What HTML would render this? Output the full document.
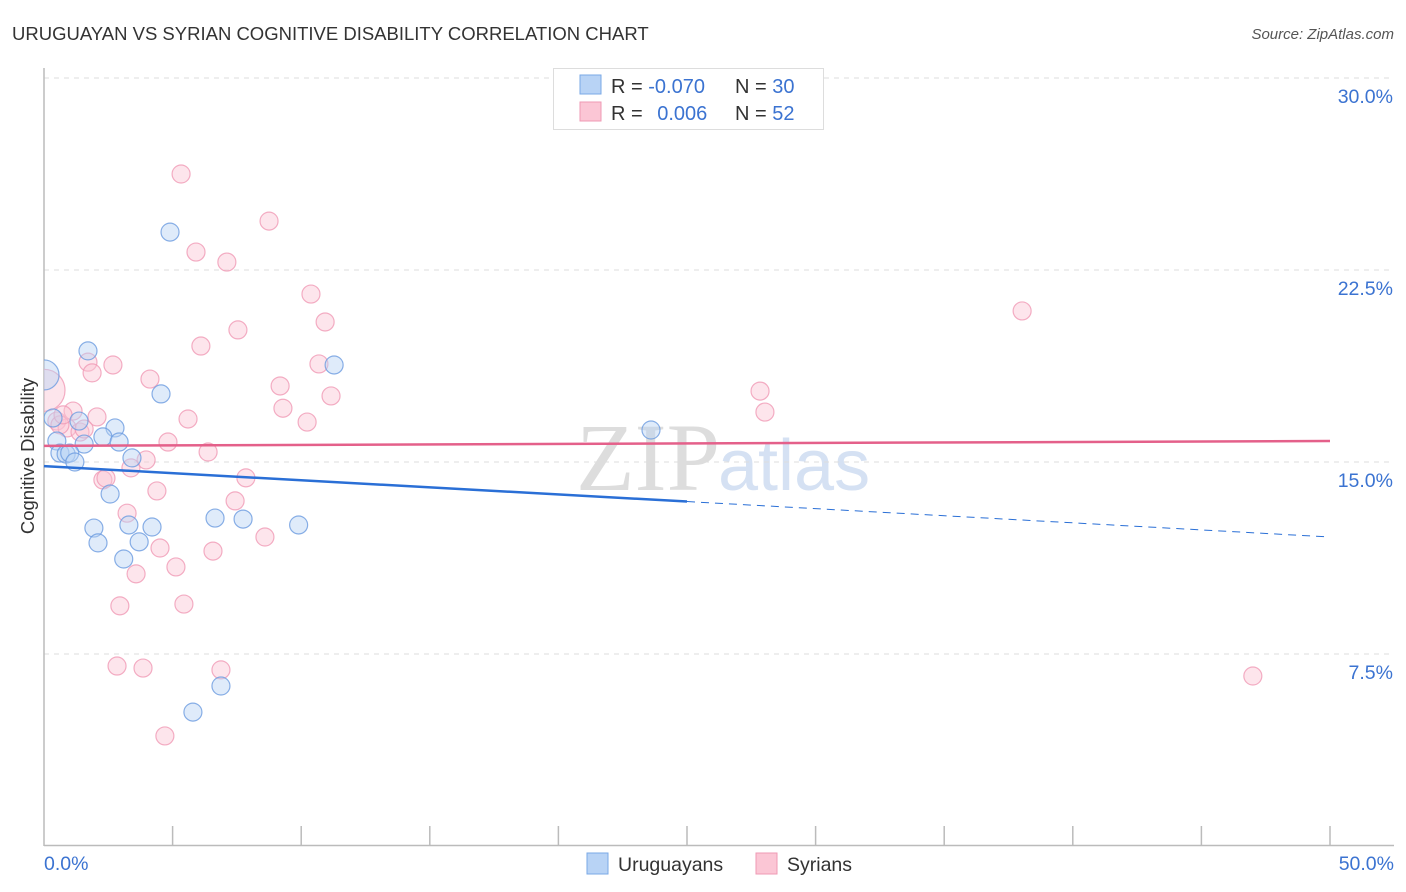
<!DOCTYPE html>
<html><head><meta charset="utf-8"><style>
body{margin:0;background:#fff;font-family:"Liberation Sans",sans-serif}
svg{display:block}
</style></head><body>
<svg id="chart" width="1406" height="892">
<defs><clipPath id="plotclip"><rect x="44" y="60" width="1360" height="786"/></clipPath></defs>
<text x="12" y="40" font-size="18.5" fill="#333">URUGUAYAN VS SYRIAN COGNITIVE DISABILITY CORRELATION CHART</text>
<text x="1394" y="39" font-size="15" fill="#555" font-style="italic" text-anchor="end">Source: ZipAtlas.com</text>
<text x="720" y="490" font-size="96" fill="#ddd" text-anchor="end" font-family="Liberation Serif,serif">ZIP</text>
<text x="718" y="490" font-size="72" fill="#d5e1f3">atlas</text>
<g id="grid"></g><g id="axes"></g><g id="pts" clip-path="url(#plotclip)"></g><g id="lines"></g>
<g>
<rect x="553.5" y="68.5" width="270" height="61" fill="#fff" stroke="#ddd"/>
<rect x="580" y="75" width="21" height="19" fill="#b8d3f5" stroke="#7aa8e6"/>
<rect x="580" y="102" width="21" height="19" fill="#fbc6d5" stroke="#ef9ab4"/>
<text x="611" y="93" font-size="20" fill="#333">R = <tspan fill="#3b73d1">-0.070</tspan></text>
<text x="735" y="93" font-size="20" fill="#333">N = <tspan fill="#3b73d1">30</tspan></text>
<text x="611" y="120" font-size="20" fill="#333">R = <tspan fill="#3b73d1" dx="9">0.006</tspan></text>
<text x="735" y="120" font-size="20" fill="#333">N = <tspan fill="#3b73d1">52</tspan></text>
</g>
<g>
<rect x="587" y="853" width="21" height="21" fill="#b8d3f5" stroke="#7aa8e6"/>
<text x="618" y="871" font-size="19.5" fill="#333">Uruguayans</text>
<rect x="756" y="853" width="21" height="21" fill="#fbc6d5" stroke="#ef9ab4"/>
<text x="787" y="871" font-size="19.5" fill="#333">Syrians</text>
</g>
<text transform="translate(34,456) rotate(-90)" font-size="18.5" fill="#333" text-anchor="middle">Cognitive Disability</text>
</svg>
<script>
const yTicks=[7.5,15,22.5,30];
const yTickLabels=["7.5%","15.0%","22.5%","30.0%"];
const xTickLabels=["0.0%","50.0%"];
const uruX=[0,1.71,4.9,4.55,11.28,23.6,0.35,1.36,0.5,2.76,2.29,2.92,1.56,0.62,0.86,1.0,1.2,3.42,2.57,1.94,2.1,3.3,4.2,3.7,3.1,6.65,7.74,9.9,6.88,5.79];
const uruY=[18.4,19.34,23.98,17.66,18.79,16.25,16.72,16.6,15.82,16.33,15.98,15.78,15.7,15.35,15.31,15.35,15.0,15.16,13.75,12.42,11.84,12.54,12.46,11.88,11.21,12.81,12.77,12.54,6.25,5.23];
const syrX=[0,5.33,8.75,5.91,7.11,10.38,10.93,7.54,6.1,1.71,1.87,2.68,10.69,4.12,9.18,11.16,9.29,5.6,10.23,2.06,1.13,0.5,0.9,1.4,0.62,1.56,4.82,6.38,3.97,3.38,2.29,2.41,4.39,7.85,7.43,3.23,8.59,4.51,6.57,5.13,3.58,2.95,5.44,2.84,3.85,6.88,4.7,27.84,28.03,38.03,47.0,0.74];
const syrY=[17.8,26.25,24.41,23.2,22.81,21.56,20.47,20.16,19.53,18.9,18.48,18.79,18.83,18.24,17.97,17.58,17.1,16.68,16.56,16.76,16.99,16.6,16.33,16.17,16.45,16.29,15.78,15.39,15.08,14.77,14.3,14.37,13.87,14.38,13.48,13.0,12.07,11.64,11.52,10.9,10.63,9.38,9.45,7.03,6.95,6.88,4.3,17.77,16.95,20.9,6.64,16.84];
const uruTrend=[14.84,12.07];
const syrTrend=[15.63,15.82];
const NS="http://www.w3.org/2000/svg";
const X=v=>44+v/50*1286, Y=v=>846-v/30*768;
function mk(p,t,a){const e=document.createElementNS(NS,t);for(const k in a)e.setAttribute(k,a[k]);p.appendChild(e);return e;}
const grid=document.getElementById('grid'),axes=document.getElementById('axes'),pts=document.getElementById('pts'),lines=document.getElementById('lines');
yTicks.forEach((t,i)=>{
 const l=mk(grid,'line',{x1:44,x2:1394,y1:Y(t),y2:Y(t),stroke:'#ddd','stroke-dasharray':'5,5'});
 
 
 const tx=mk(grid,'text',{x:1393,y:Y(t)+25,'font-size':19.5,fill:'#3b73d1','text-anchor':'end'});tx.textContent=yTickLabels[i];
 
 
});
const ya=mk(axes,'line',{x1:44,x2:44,y1:68,y2:846,stroke:'#bbb','stroke-width':1.5});


const xa=mk(axes,'line',{x1:44,x2:1394,y1:845.5,y2:845.5,stroke:'#bbb','stroke-width':1.5});


for(let i=1;i<=10;i++){const tk=mk(axes,'line',{x1:X(i*5),x2:X(i*5),y1:826,y2:846,stroke:'#bbb','stroke-width':1.5});
 
 }
[[0,'start',44],[1,'end',1394]].forEach(([i,a,x])=>{const t=mk(axes,'text',{x:x,y:870,'font-size':19.5,fill:'#3b73d1','text-anchor':a});t.textContent=xTickLabels[i];
 
 });
function dots(xs,ys,fill,stroke,name){xs.forEach((x,i)=>{const r=(x===0)?(name==='uruguayan-point'?15:21):9;
 const c=mk(pts,'circle',{cx:X(x),cy:Y(ys[i]),r:r,fill:fill,stroke:stroke,'stroke-width':1.2,'fill-opacity':0.45,'stroke-opacity':0.8});
 
 });}
dots(syrX,syrY,'#fbc6d5','#f09ab5','syrian-point');
dots(uruX,uruY,'#b8d3f5','#6b9be0','uruguayan-point');
const tY=(tr,x)=>tr[0]+(tr[1]-tr[0])*x/50;
const b1=mk(lines,'line',{x1:X(0),y1:Y(tY(uruTrend,0)),x2:X(25),y2:Y(tY(uruTrend,25)),stroke:'#2a6fd6','stroke-width':2.5});


const b2=mk(lines,'line',{x1:X(25),y1:Y(tY(uruTrend,25)),x2:X(50),y2:Y(tY(uruTrend,50)),stroke:'#2a6fd6','stroke-width':1,'stroke-dasharray':'8,6'});


const p1=mk(lines,'line',{x1:X(0),y1:Y(syrTrend[0]),x2:X(50),y2:Y(syrTrend[1]),stroke:'#e4608a','stroke-width':2.5});


</script>
</body></html>
